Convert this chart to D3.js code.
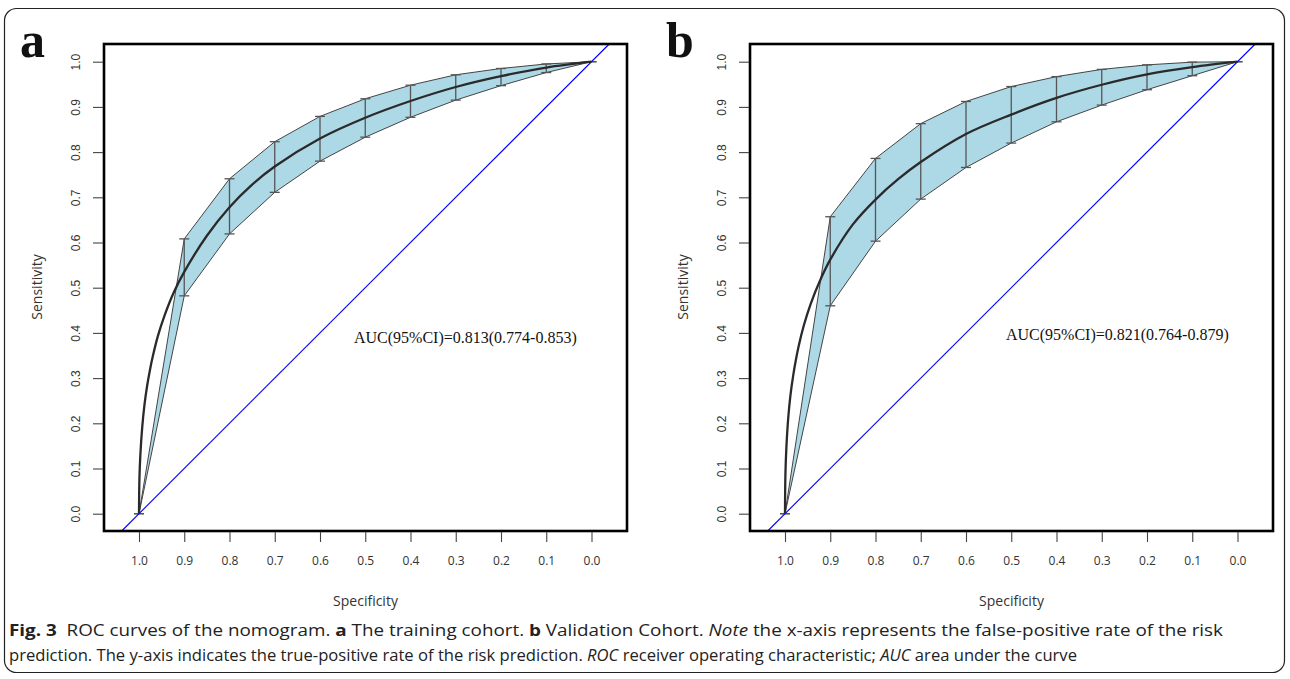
<!DOCTYPE html>
<html>
<head>
<meta charset="utf-8">
<script src="https://cdn.jsdelivr.net/npm/d3@7"></script>
<style>
  body { margin: 0; background: #fff; }
  svg { display: block; }
</style>
</head>
<body>
<svg width="1290" height="679"></svg>
<script>
// tick values shared by both panels
const ticks = [1.0, 0.9, 0.8, 0.7, 0.6, 0.5, 0.4, 0.3, 0.2, 0.1, 0.0];

// panel a - training cohort: CI band at each specificity tick
const specA = [1.0, 0.9, 0.8, 0.7, 0.6, 0.5, 0.4, 0.3, 0.2, 0.1, 0.0];
const upperA = [0, 0.608, 0.741, 0.823, 0.879, 0.918, 0.948, 0.971, 0.985, 0.995, 1.0];
const lowerA = [0, 0.482, 0.619, 0.711, 0.780, 0.833, 0.877, 0.915, 0.947, 0.976, 1.0];
// smoothed ROC curve [specificity, sensitivity]
const curveA = [[1.0, 0], [0.999, 0.08], [0.997, 0.13], [0.993, 0.19], [0.988, 0.24], [0.982, 0.283],
  [0.976, 0.317], [0.97, 0.346], [0.958, 0.394], [0.943, 0.44], [0.923, 0.49], [0.9, 0.535],
  [0.85, 0.615], [0.8, 0.678], [0.75, 0.728], [0.7, 0.768], [0.6, 0.83], [0.5, 0.876],
  [0.4, 0.913], [0.3, 0.944], [0.2, 0.968], [0.1, 0.987], [0.0, 1.0]];
const aucA = "AUC(95%CI)=0.813(0.774-0.853)";

// panel b - validation cohort
const specB = [1.0, 0.9, 0.8, 0.7, 0.6, 0.5, 0.4, 0.3, 0.2, 0.1, 0.0];
const upperB = [0, 0.657, 0.786, 0.863, 0.912, 0.945, 0.967, 0.983, 0.993, 0.999, 1.0];
const lowerB = [0, 0.460, 0.603, 0.696, 0.766, 0.820, 0.867, 0.904, 0.938, 0.969, 1.0];
const curveB = [[1.0, 0], [0.999, 0.09], [0.997, 0.145], [0.993, 0.21], [0.988, 0.262], [0.982, 0.305],
  [0.976, 0.34], [0.97, 0.37], [0.958, 0.418], [0.943, 0.465], [0.923, 0.515], [0.9, 0.562],
  [0.85, 0.64], [0.8, 0.695], [0.75, 0.74], [0.7, 0.778], [0.6, 0.84], [0.5, 0.883],
  [0.4, 0.92], [0.3, 0.949], [0.2, 0.972], [0.1, 0.988], [0.0, 1.0]];
const aucB = "AUC(95%CI)=0.821(0.764-0.879)";

const svg = d3.select('svg');

// outer figure frame
svg.append('rect')
  .attr('x', 4.5).attr('y', 8.5)
  .attr('width', 1280).attr('height', 664)
  .attr('rx', 12)
  .style('fill', 'none')
  .style('stroke', '#222')
  .style('stroke-width', 1.2);

function plotPanel({ left, letter, spec, upper, lower, curve, auc, aucX, aucY }) {
  const box = { x0: left, x1: left + 523, y0: 44, y1: 531 };
  const g = svg.append('g');

  const xScale = d3.scaleLinear().domain([1, 0]).range([left + 35, left + 487.5]);
  const yScale = d3.scaleLinear().domain([0, 1]).range([513.7, 61.7]);

  const band = spec.map((s, i) => [s, upper[i]])
    .concat(spec.map((s, i) => [s, lower[i]]).reverse());

  g.append('path')
    .datum(band)
    .attr('d', d3.line().x(d => xScale(d[0])).y(d => yScale(d[1])))
    .style('fill', '#add8e6')
    .style('stroke', '#444')
    .style('stroke-width', 1);

  // error bars with caps
  const bars = g.selectAll('.bar')
    .data(spec.map((s, i) => ({ s, lo: lower[i], hi: upper[i] })))
    .enter().append('g').classed('bar', true);
  bars.append('line')
    .attr('x1', d => xScale(d.s)).attr('x2', d => xScale(d.s))
    .attr('y1', d => yScale(d.lo)).attr('y2', d => yScale(d.hi));
  bars.append('line')
    .attr('x1', d => xScale(d.s) - 5).attr('x2', d => xScale(d.s) + 5)
    .attr('y1', d => yScale(d.lo)).attr('y2', d => yScale(d.lo));
  bars.append('line')
    .attr('x1', d => xScale(d.s) - 5).attr('x2', d => xScale(d.s) + 5)
    .attr('y1', d => yScale(d.hi)).attr('y2', d => yScale(d.hi));
  bars.selectAll('line')
    .style('stroke', '#555')
    .style('stroke-width', 1.3);

  // chance diagonal, clipped to the box
  const yb = yScale.invert(box.y1), yt = yScale.invert(box.y0);
  g.append('line')
    .attr('x1', xScale(1 - yb)).attr('y1', yScale(yb))
    .attr('x2', xScale(1 - yt)).attr('y2', yScale(yt))
    .style('stroke', '#0000ff')
    .style('stroke-width', 1.1);

  g.append('path')
    .datum(curve)
    .attr('d', d3.line().x(d => xScale(d[0])).y(d => yScale(d[1])).curve(d3.curveCatmullRom.alpha(0.5)))
    .style('fill', 'none')
    .style('stroke', '#2a2a2a')
    .style('stroke-width', 2.3);

  g.append('rect')
    .attr('x', box.x0).attr('y', box.y0)
    .attr('width', box.x1 - box.x0).attr('height', box.y1 - box.y0)
    .style('fill', 'none')
    .style('stroke', '#000')
    .style('stroke-width', 2.6);

  //axes
  const xAxis = d3.axisBottom(xScale).tickValues(ticks).tickSize(10).tickPadding(14)
    .tickFormat(d3.format('.1f'));
  const yAxis = d3.axisLeft(yScale).tickValues(ticks).tickSize(10).tickFormat(d3.format('.1f'));

  const gx = g.append('g')
    .classed('xAxis', true)
    .attr('transform', `translate(0, ${box.y1 + 1})`)
    .call(xAxis);
  gx.select('.domain').remove();
  gx.selectAll('line').style('stroke', '#444').style('stroke-width', 1.1);
  gx.selectAll('text')
    .style('font-family', '"Open Sans", sans-serif')
    .style('font-size', '12px')
    .style('fill', '#333');

  const gy = g.append('g')
    .classed('yAxis', true)
    .attr('transform', `translate(${box.x0 - 1}, 0)`)
    .call(yAxis);
  gy.select('.domain').remove();
  gy.selectAll('line').style('stroke', '#444').style('stroke-width', 1.1);
  gy.selectAll('text')
    .attr('x', null).attr('dy', null)
    .attr('transform', 'translate(-23, 0) rotate(-90)')
    .attr('text-anchor', 'middle')
    .style('font-family', '"Liberation Sans", Arial, sans-serif')
    .style('font-size', '12px')
    .style('fill', '#333');

  g.append('text')
    .attr('transform', `translate(${(box.x0 + box.x1) / 2}, 606)`)
    .style('text-anchor', 'middle')
    .style('font-family', '"Open Sans", sans-serif')
    .style('font-size', '14px')
    .style('fill', '#333')
    .text('Specificity');

  g.append('text')
    .attr('transform', `translate(${box.x0 - 62}, 287) rotate(-90)`)
    .style('text-anchor', 'middle')
    .style('font-family', '"Open Sans", sans-serif')
    .style('font-size', '14px')
    .style('fill', '#333')
    .text('Sensitivity');

  g.append('text')
    .attr('x', aucX).attr('y', aucY)
    .style('font-family', '"Liberation Serif", "Times New Roman", serif')
    .style('font-size', '16px')
    .style('fill', '#111')
    .text(auc);

  g.append('text')
    .attr('x', left - 84).attr('y', 57)
    .style('font-family', '"Liberation Serif", "Times New Roman", serif')
    .style('font-weight', 'bold')
    .style('font-size', '50px')
    .style('fill', '#111')
    .text(letter);
}

plotPanel({ left: 104, letter: 'a', spec: specA, upper: upperA, lower: lowerA, curve: curveA,
  auc: aucA, aucX: 354, aucY: 343 });
plotPanel({ left: 750, letter: 'b', spec: specB, upper: upperB, lower: lowerB, curve: curveB,
  auc: aucB, aucX: 1006, aucY: 340 });

// caption
const captionLines = [
  [['Fig. 3', 'b'], ['  ROC curves of the nomogram. ', ''], ['a', 'b'], [' The training cohort. ', ''],
   ['b', 'b'], [' Validation Cohort. ', ''], ['Note', 'i'],
   [' the x-axis represents the false-positive rate of the risk', '']],
  [['prediction. The y-axis indicates the true-positive rate of the risk prediction. ', ''],
   ['ROC', 'i'], [' receiver operating characteristic; ', ''], ['AUC', 'i'], [' area under the curve', '']]
];
const captionWidths = [1214, 1068];

captionLines.forEach((parts, i) => {
  const t = svg.append('text')
    .attr('x', 9).attr('y', 636 + i * 25)
    .attr('textLength', captionWidths[i])
    .attr('lengthAdjust', 'spacingAndGlyphs')
    .style('font-family', '"Open Sans", sans-serif')
    .style('font-size', '15.5px')
    .style('fill', '#222')
    .attr('xml:space', 'preserve');
  parts.forEach(([txt, st]) => {
    t.append('tspan')
      .style('font-weight', st === 'b' ? 'bold' : null)
      .style('font-style', st === 'i' ? 'italic' : null)
      .text(txt);
  });
});
</script>
</body>
</html>
